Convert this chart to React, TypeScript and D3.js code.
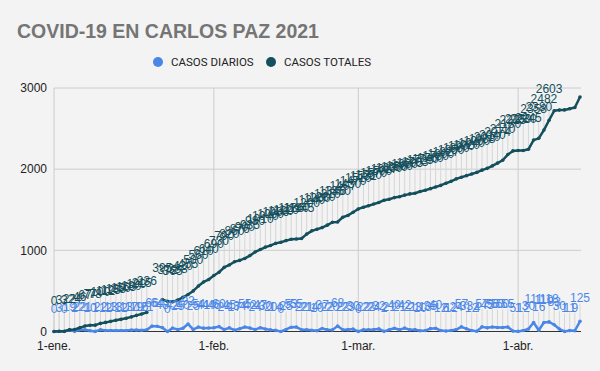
import { useEffect, useRef } from 'react';
import * as d3 from "d3";

// valores (1-ene. a 13-abr. 2021)
const startDate = new Date(2021, 0, 1);
const casosDiarios: (number | null)[] = [
    0, 3, 0, 19, 2, 22, 21, 10, 1, 22, 12, 13, 13, 12, 13, 17, 19, 16, 21, 66,
    64, 48, 0, 42, 25, 40, 92, 25, 54, 41, 44, 46, 60, 24, 45, 17, 34, 55, 42, 24,
    47, 30, 20, 14, 0, 25, 53, 55, 22, 21, 14, 10, 37, 22, 20, 68, 22, 23, 30, 0,
    22, 22, 24, 32, 2, 21, 40, 21, 42, 21, 23, 10, 13, 35, 40, 12, 6, 12, 24, 57,
    33, 12, 4, 57, 45, 56, 50, 50, 55, 5, 1, 12, 30, 111, 16, 110, 118, 83, 30, 1,
    11, 9, 125,
];
const casosTotales: (number | null)[] = [
    0, 3, 3, 22, 24, 46, 67, 77, 78, 100, 112, 125, 138, 150, 163, 180, 199, 215, 236, null,
    null, 395, 372, 365, 388, 420, 455, 500, 560, 610, 640, 690, 730, 790, 820, 860, 876, 900, 935, 980,
    1010, 1040, 1060, 1086, 1100, 1120, 1136, 1140, 1145, 1200, 1240, 1260, 1280, 1310, 1346, 1350, 1407, 1430, 1470, 1510,
    1531, 1550, 1570, 1590, 1617, 1630, 1650, 1660, 1680, 1695, 1703, 1725, 1740, 1760, 1780, 1800, 1827, 1850, 1880, 1900,
    1920, 1940, 1960, 1988, 2010, 2040, 2074, 2110, 2180, 2225, 2230, 2230, 2245, 2358, 2380, 2482, 2603, 2720, 2728, 2730,
    2745, 2760, 2889,
];
const yTicks = [0, 1000, 2000, 3000];
const xTickDates = [new Date(2021, 0, 1), new Date(2021, 1, 1), new Date(2021, 2, 1), new Date(2021, 3, 1)];
const xTickLabels = ["1-ene.", "1-feb.", "1-mar.", "1-abr."];
const seriesNames = ["CASOS DIARIOS", "CASOS TOTALES"];
const seriesColors = ["#4a86e8", "#134f5c"];

const FONT = "'Liberation Sans', Arial, sans-serif";

const App = () => {
    const ref = useRef<SVGSVGElement | null>(null);

    useEffect(() => {
        if (!ref.current) return;
        const width = 600;
        const height = 371;
        const svg = d3.select(ref.current).attr("width", width).attr("height", height);
        svg.selectAll("*").remove();

        svg.append("rect").attr("width", width).attr("height", height).attr("fill", "#f3f3f3");

        const dates = casosTotales.map((_, i) => d3.timeDay.offset(startDate, i));
        const x = d3.scaleTime()
            .domain([startDate, dates[dates.length - 1]])
            .range([54, 580]);
        const y = d3.scaleLinear().domain([0, 3000]).range([331.5, 88]);

        // título
        svg.append("text")
            .attr("x", 17).attr("y", 37.5)
            .attr("font-family", FONT).attr("font-weight", "bold").attr("font-size", 19.5)
            .attr("fill", "#757575")
            .text("COVID-19 EN CARLOS PAZ 2021");

        // leyenda
        const legendX = [158, 271];
        seriesNames.forEach((name, i) => {
            svg.append("circle").attr("cx", legendX[i]).attr("cy", 62).attr("r", 5).attr("fill", seriesColors[i]);
            svg.append("text")
                .attr("x", legendX[i] + 13).attr("y", 66)
                .attr("font-family", "Roboto, sans-serif").attr("font-size", 11.5)
                .attr("fill", "#222")
                .text(name);
        });

        // grilla
        const grid = svg.append("g");
        yTicks.filter(t => t > 0).forEach(t => {
            grid.append("line")
                .attr("x1", 54).attr("x2", 581)
                .attr("y1", y(t)).attr("y2", y(t))
                .attr("stroke", "#cccccc").attr("stroke-width", 1);
        });
        xTickDates.forEach(d => {
            grid.append("line")
                .attr("x1", x(d)).attr("x2", x(d))
                .attr("y1", 88).attr("y2", y(0))
                .attr("stroke", "#cccccc").attr("stroke-width", 1);
        });

        // etiquetas de ejes
        yTicks.forEach(t => {
            svg.append("text")
                .attr("x", 47).attr("y", y(t)).attr("dy", "0.35em")
                .attr("text-anchor", "end")
                .attr("font-family", FONT).attr("font-size", 12).attr("fill", "#222")
                .text(`${t}`);
        });
        xTickDates.forEach((d, i) => {
            svg.append("text")
                .attr("x", x(d)).attr("y", 350)
                .attr("text-anchor", "middle")
                .attr("font-family", FONT).attr("font-size", 12).attr("fill", "#222")
                .text(xTickLabels[i]);
        });

        const allSeries = [casosDiarios, casosTotales];
        const labelOffsets = [20, 28];
        // Sheets oculta las etiquetas de los últimos totales (choque con el borde)
        const lastLabel = [casosDiarios.length - 1, 96];
        const labelled = (s: number) => allSeries[s]
            .map((v, i) => ({ v, i }))
            .filter(d => d.v !== null && d.i <= lastLabel[s]);

        // líneas guía de las etiquetas
        const leaders = svg.append("g");
        allSeries.forEach((_, s) => {
            labelled(s).forEach(d => {
                leaders.append("line")
                    .attr("x1", x(dates[d.i])).attr("x2", x(dates[d.i]))
                    .attr("y1", y(d.v as number) - labelOffsets[s] + 2).attr("y2", y(d.v as number) - 2)
                    .attr("stroke", "#d6d6d6").attr("stroke-width", 1);
            });
        });

        // eje 0
        svg.append("line")
            .attr("x1", 54).attr("x2", 581)
            .attr("y1", y(0)).attr("y2", y(0))
            .attr("stroke", "#333").attr("stroke-width", 1);

        allSeries.forEach((values, s) => {
            const line = d3.line<number | null>()
                .defined(d => d !== null)
                .x((_, i) => x(dates[i]))
                .y(d => y(d as number));
            svg.append("path")
                .datum(values)
                .attr("fill", "none")
                .attr("stroke", seriesColors[s])
                .attr("stroke-width", 2.5)
                .attr("stroke-linejoin", "round")
                .attr("d", line);

            svg.append("g").selectAll("circle")
                .data(values.map((v, i) => ({ v, i })).filter(d => d.v !== null))
                .enter()
                .append("circle")
                .attr("cx", d => x(dates[d.i]))
                .attr("cy", d => y(d.v as number))
                .attr("r", 1.8)
                .attr("fill", seriesColors[s]);
        });

        allSeries.forEach((_, s) => {
            svg.append("g").selectAll("text")
                .data(labelled(s))
                .enter()
                .append("text")
                .attr("x", d => x(dates[d.i]))
                .attr("y", d => y(d.v as number) - labelOffsets[s] + 1)
                .attr("text-anchor", "middle")
                .attr("font-family", FONT).attr("font-size", 12)
                .attr("fill", seriesColors[s])
                .text(d => `${d.v}`);
        });
    }, []);

    return (
        <svg ref={ref} style={{ position: "absolute", left: 0, top: 0 }}></svg>
    );
};

export default App;
